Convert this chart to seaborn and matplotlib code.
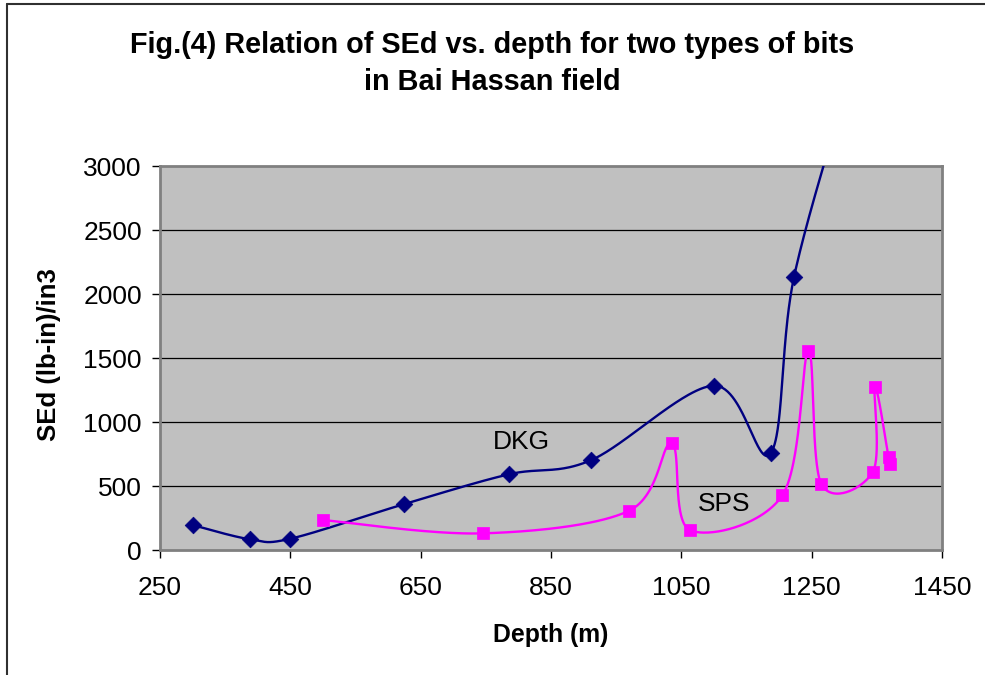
import numpy as np
import pandas as pd
import matplotlib
matplotlib.use("Agg")
import matplotlib.pyplot as plt
import seaborn as sns
from matplotlib.lines import Line2D

# ---- data ----
dkg_depth = [300, 388, 450, 625, 785, 912, 1100, 1187, 1223, 1315]
dkg_sed = [195, 84, 88, 359, 591, 703, 1284, 755, 2135, 3800]

sps_depth = [500, 745, 970, 1035, 1063, 1205, 1245, 1265, 1344, 1347, 1368, 1370]
sps_sed = [234, 130, 307, 833, 156, 427, 1557, 513, 612, 1276, 724, 672]

series_names = ["DKG", "SPS"]
series_colors = ["#000080", "#FF00FF"]
label_pos_x = [804, 1115]
label_pos_y = [846, 359]

x_ticks = [250, 450, 650, 850, 1050, 1250, 1450]
y_ticks = [0, 500, 1000, 1500, 2000, 2500, 3000]

title_lines = ["Fig.(4) Relation of SEd vs. depth for two types of bits",
               "in Bai Hassan field"]
x_label = "Depth (m)"
y_label = "SEd (lb-in)/in3"

# ---- Excel-like smoothing (Bezier through points, in screen-proportional space) ----
SX, SY = 0.65, 0.128


def excel_smooth(xs, ys, n=60):
    P = np.column_stack([np.asarray(xs, float) * SX, np.asarray(ys, float) * SY])
    out = [P[0]]
    m = len(P)
    for i in range(m - 1):
        p0 = P[i - 1] if i > 0 else P[i]
        p1 = P[i]
        p2 = P[i + 1]
        p3 = P[i + 2] if i + 2 < m else P[i + 1]
        c1 = p1 + (p2 - p0) / 6.0
        c2 = p2 - (p3 - p1) / 6.0
        t = np.linspace(0, 1, n)[1:, None]
        seg = ((1 - t) ** 3) * p1 + 3 * ((1 - t) ** 2) * t * c1 + 3 * (1 - t) * t ** 2 * c2 + t ** 3 * p2
        out.extend(seg)
    out = np.array(out)
    return out[:, 0] / SX, out[:, 1] / SY


sns.set_theme(style="white")
plt.rcParams["font.family"] = ["Liberation Sans", "DejaVu Sans"]
plt.rcParams["text.color"] = "black"
plt.rcParams["axes.labelcolor"] = "black"
plt.rcParams["xtick.color"] = "black"
plt.rcParams["ytick.color"] = "black"

fig = plt.figure(figsize=(9.85, 6.75), dpi=100)
fig.patch.set_facecolor("white")
ax = fig.add_axes([160 / 985, 1 - 550 / 675, (942 - 160) / 985, (550 - 166) / 675])
ax.set_facecolor("#C0C0C0")

curves = []
for name, xs, ys in [("DKG", dkg_depth, dkg_sed), ("SPS", sps_depth, sps_sed)]:
    sx, sy = excel_smooth(xs, ys)
    curves.append(pd.DataFrame({"depth": sx, "sed": sy, "bit": name}))

for df, col in zip(curves, series_colors):
    sns.lineplot(data=df, x="depth", y="sed", sort=False, estimator=None,
                 color=col, linewidth=1.7, ax=ax, legend=False, zorder=3)

pts_dkg = pd.DataFrame({"depth": dkg_depth, "sed": dkg_sed})
pts_sps = pd.DataFrame({"depth": sps_depth, "sed": sps_sed})
sns.scatterplot(data=pts_dkg, x="depth", y="sed", marker="D", s=72,
                color=series_colors[0], edgecolor=series_colors[0], linewidth=0.5,
                ax=ax, legend=False, zorder=4)
sns.scatterplot(data=pts_sps, x="depth", y="sed", marker="s", s=74,
                color=series_colors[1], edgecolor=series_colors[1], linewidth=0.5,
                ax=ax, legend=False, zorder=4)

ax.set_xlim(250, 1450)
ax.set_ylim(0, 3000)
ax.set_xticks(x_ticks)
ax.set_yticks(y_ticks)
ax.set_xticklabels([str(v) for v in x_ticks], fontsize=19, color="black")
ax.set_yticklabels([str(v) for v in y_ticks], fontsize=19, color="black")
ax.set_xlabel("")
ax.set_ylabel("")
ax.tick_params(axis="both", direction="out", length=6, width=1, color="black",
               bottom=True, left=True, top=False, right=False)
ax.tick_params(axis="x", pad=13)
ax.tick_params(axis="y", pad=7)

for yv in y_ticks[1:-1]:
    ax.axhline(yv, color="black", linewidth=0.9, zorder=1)

for sp in ax.spines.values():
    sp.set_visible(True)
    sp.set_color("#808080")
    sp.set_linewidth(2)

for name, lx, ly in zip(series_names, label_pos_x, label_pos_y):
    ax.text(lx, ly, name, fontsize=19, ha="center", va="center", color="black", zorder=5)

fig.text(0.5, 1 - 53 / 675, title_lines[0], fontsize=20.8, fontweight="bold",
         ha="center", va="baseline", color="black")
fig.text(0.5, 1 - 90 / 675, title_lines[1], fontsize=20.8, fontweight="bold",
         ha="center", va="baseline", color="black")
fig.text(551 / 985, 1 - 642 / 675, x_label, fontsize=17.8, fontweight="bold",
         ha="center", va="baseline", color="black")
fig.text(49 / 985, 1 - 355 / 675, y_label, fontsize=18.5, fontweight="bold",
         ha="center", va="center", rotation=90, color="black")

# figure border (top and left visible in the reference)
fig.add_artist(Line2D([7 / 985, 7 / 985], [0, 1 - 4 / 675], transform=fig.transFigure,
                      color="#303030", linewidth=1.5))
fig.add_artist(Line2D([7 / 985, 1], [1 - 4 / 675, 1 - 4 / 675], transform=fig.transFigure,
                      color="#303030", linewidth=1.5))

fig.savefig("out.png", dpi=100, facecolor="white")
